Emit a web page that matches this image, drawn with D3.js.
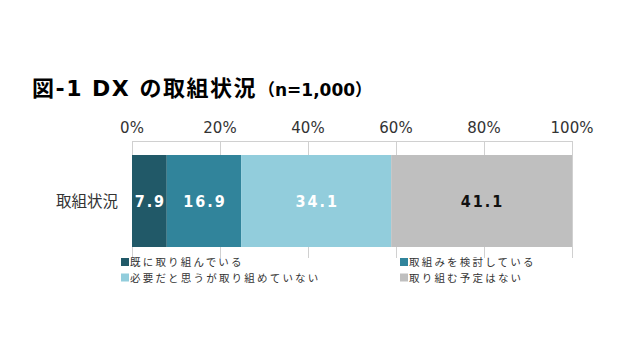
<!DOCTYPE html>
<html><head><meta charset="utf-8">
<script src="https://cdn.jsdelivr.net/npm/d3@7"></script>
<style>body{margin:0;background:#fff}svg{display:block}</style>
</head><body>
<svg id="c" width="640" height="360"></svg>
<script>
const categories = ["取組状況"];
const seriesNames = ["既に取り組んでいる","取組みを検討している","必要だと思うが取り組めていない","取り組む予定はない"];
const seriesValues = [7.9, 16.9, 34.1, 41.1];
const seriesColors = ["#215968","#31849B","#92CDDC","#BFBFBF"];
const labelColors = ["#fff","#fff","#fff","#111"];
const tickValues = [0,20,40,60,80,100];
const tickLabels = ["0%","20%","40%","60%","80%","100%"];

const svg = d3.select("#c");
const x = d3.scaleLinear().domain([0,100]).range([132,572]);
const y = d3.scaleBand().domain(categories).range([141,261]).paddingInner(0).paddingOuter(0.12);

// title
const t = svg.append("text").attr("x",32).attr("y",96).attr("font-family","'DejaVu Sans', 'Noto Sans CJK JP', sans-serif").attr("fill","#000").attr("font-weight","bold");
t.append("tspan").attr("font-size",22).attr("letter-spacing",1.5).text("図-1 DX の取組状況");
t.append("tspan").attr("font-size",17).attr("dx",1).text("（n=1,000）");

// grid
svg.append("line").attr("x1",x(0)).attr("x2",x(100)).attr("y1",141.5).attr("y2",141.5).attr("stroke","#d0d0d0");
svg.selectAll(".g").data(tickValues).join("line")
  .attr("x1",d=>Math.round(x(d))+0.5).attr("x2",d=>Math.round(x(d))+0.5)
  .attr("y1",141).attr("y2",258).attr("stroke","#d0d0d0");

// tick labels
svg.selectAll(".tl").data(tickValues).join("text")
  .attr("x",d=>x(d)).attr("y",133).attr("text-anchor","middle")
  .attr("font-family","'DejaVu Sans', sans-serif").attr("font-size",15).attr("fill","#333")
  .text((d,i)=>tickLabels[i]);

// bars
let cum = 0;
const segs = seriesValues.map((v,i)=>{const s={i,v,x0:cum,x1:cum+v};cum+=v;return s;});
const barH = 92, barY = 155;
svg.selectAll(".bar").data(segs).join("rect")
  .attr("x",d=>x(d.x0)).attr("width",d=>x(d.x1)-x(d.x0))
  .attr("y",barY).attr("height",barH).attr("fill",d=>seriesColors[d.i]);
svg.selectAll(".bl").data(segs).join("text")
  .attr("x",d=>(x(d.x0)+x(d.x1))/2+1).attr("y",barY+barH/2+6).attr("text-anchor","middle")
  .attr("font-family","'DejaVu Sans Condensed', sans-serif").attr("font-weight","bold")
  .attr("font-size",16).attr("letter-spacing",2).attr("fill",d=>labelColors[d.i])
  .text(d=>d.v.toFixed(1));

// category label
svg.selectAll(".cl").data(categories).join("text")
  .attr("x",118).attr("y",barY+barH/2+6).attr("text-anchor","end")
  .attr("font-family","'Noto Sans CJK JP', sans-serif").attr("font-size",15.5).attr("fill","#333")
  .text(d=>d);

// legend
const lpos = [[121,262],[400,262],[121,277.5],[400,277.5]];
const lg = svg.selectAll(".lg").data(seriesNames).join("g")
  .attr("transform",(d,i)=>`translate(${lpos[i][0]},${lpos[i][1]})`);
lg.append("rect").attr("x",0).attr("y",-4).attr("width",8).attr("height",8).attr("fill",(d,i)=>seriesColors[i]);
lg.append("text").attr("x",9).attr("y",4).attr("font-family","'Noto Sans CJK JP', sans-serif")
  .attr("font-size",10.5).attr("letter-spacing",2.2).attr("fill","#333").text(d=>d);
</script>
</body></html>
